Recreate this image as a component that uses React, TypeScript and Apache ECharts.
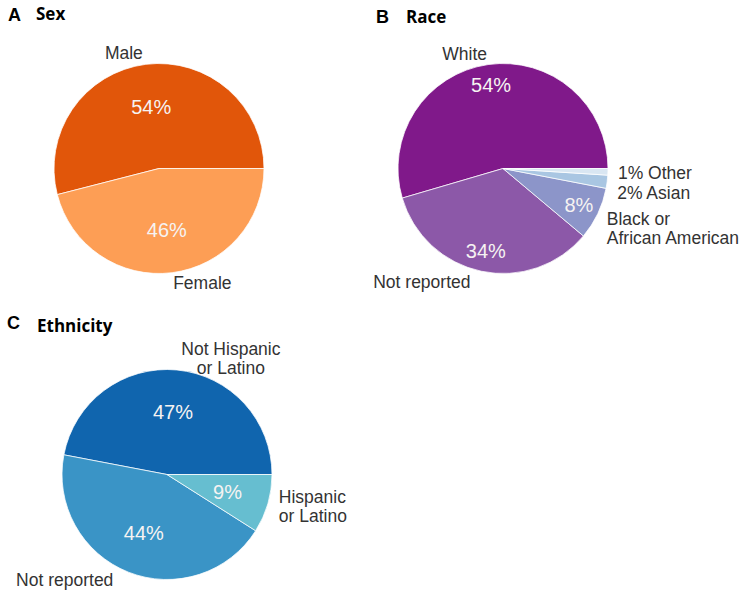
import React, { useEffect, useRef } from "react";
import * as echarts from "echarts";

// ---- data ----
const sexNames = ["Male", "Female"];
const sexValues = [54, 46];
const sexLabels = ["Male", "Female"];

const raceNames = ["White", "Not reported", "Black or African American", "Asian", "Other"];
const raceValues = [54, 34, 8, 2, 1];
const raceLabels = ["White", "Not reported", "Black or\nAfrican American", "2% Asian", "1% Other"];
const racePctShown = [true, true, true, false, false];

const ethNames = ["Not Hispanic or Latino", "Not reported", "Hispanic or Latino"];
const ethValues = [47, 44, 9];
const ethLabels = ["Not Hispanic\nor Latino", "Not reported", "Hispanic\nor Latino"];

// ---- colours ----
const sexColors = ["#e1560a", "#fd9e55"];
const raceColors = ["#80198a", "#8c58a8", "#8c95c9", "#a9c6e2", "#d9e6f2"];
const ethColors = ["#1065ae", "#3a94c6", "#66bed0"];

// ---- label nudges (layout only) ----
const sexNudge = [[2, -11], [-4, 10]];
const raceNudge = [[4, -11], [-6, 11], [4, 15], [5, 11], [5, 1]];
const ethNudge = [[49, -11], [-10, 8], [6, 3]];
const ethAlign = ["center", null, null];

const FONT = '"Liberation Sans", Arial, sans-serif';
const TITLE_FONT = '"Open Sans", sans-serif';

function pieSeries(
  names: string[],
  values: number[],
  colors: string[],
  labels: string[],
  nudge: number[][],
  center: number[],
  r: number,
  pctR: number,
  pctShown: boolean[] | null,
  align?: (string | null)[]
) {
  const visible = {
    type: "pie",
    center,
    radius: r,
    startAngle: 0,
    clockwise: false,
    avoidLabelOverlap: false,
    silent: true,
    itemStyle: { borderColor: "rgba(255,255,255,0.75)", borderWidth: 1 },
    label: {
      show: true,
      position: "outside",
      color: "#333",
      fontSize: 17.5,
      lineHeight: 19,
      fontFamily: FONT,
      formatter: (p: any) => labels[p.dataIndex],
    },
    labelLine: { show: false, length: 0, length2: 0 },
    labelLayout: (p: any) => {
      const n = nudge[p.dataIndex];
      const o: any = { dx: n[0], dy: n[1] };
      if (align && align[p.dataIndex]) o.align = align[p.dataIndex];
      return o;
    },
    data: names.map((n, i) => ({ name: n, value: values[i], itemStyle: { color: colors[i] } })),
  };
  const pct = {
    type: "pie",
    center,
    radius: pctR,
    startAngle: 0,
    clockwise: false,
    avoidLabelOverlap: false,
    silent: true,
    z: 5,
    itemStyle: { color: "transparent", borderWidth: 0 },
    label: {
      show: true,
      position: "inside",
      color: "#f6f3f2",
      fontSize: 20,
      fontFamily: FONT,
      formatter: (p: any) => (pctShown && !pctShown[p.dataIndex] ? "" : p.value + "%"),
    },
    labelLine: { show: false },
    data: names.map((n, i) => ({ name: n, value: values[i] })),
  };
  return [visible, pct];
}

function titleText(x: number, y: number, text: string, family: string, size: number) {
  return {
    type: "text",
    left: x,
    top: y,
    style: { text, fill: "#000", fontSize: size, fontWeight: "bold", fontFamily: family },
  };
}

export default function App() {
  const ref = useRef<HTMLDivElement>(null);
  useEffect(() => {
    const chart = echarts.init(ref.current!, null, { renderer: "svg" });
    chart.setOption({
      animation: false,
      backgroundColor: "#fff",
      graphic: [
        titleText(8, 6, "A", FONT, 18),
        titleText(36, 5, "Sex", TITLE_FONT, 17),
        titleText(376, 8, "B", FONT, 18),
        titleText(406, 8, "Race", TITLE_FONT, 17),
        titleText(7, 314, "C", FONT, 18),
        titleText(37, 317, "Ethnicity", TITLE_FONT, 17),
      ],
      series: [
        ...pieSeries(sexNames, sexValues, sexColors, sexLabels, sexNudge, [159, 168.5], 105, 118, null),
        ...pieSeries(raceNames, raceValues, raceColors, raceLabels, raceNudge, [503, 168.5], 105, 162, racePctShown),
        ...pieSeries(ethNames, ethValues, ethColors, ethLabels, ethNudge, [167, 474.5], 105, 120, null, ethAlign),
      ],
    });
    return () => chart.dispose();
  }, []);
  return (
    <div
      ref={ref}
      style={{ position: "fixed", left: 0, top: 0, width: 750, height: 597 }}
    />
  );
}
